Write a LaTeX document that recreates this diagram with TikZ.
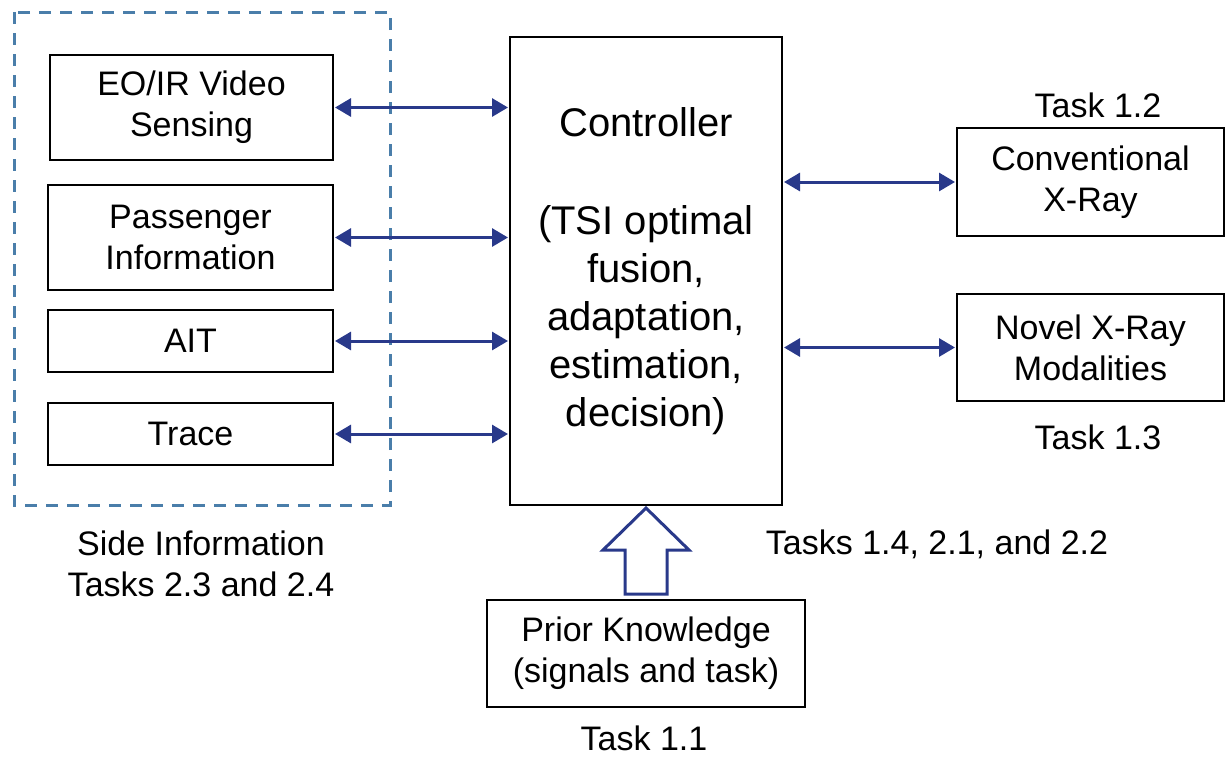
\documentclass[tikz,border=0pt]{standalone}
\usepackage{fontspec}
\setmainfont{Liberation Sans}
\usetikzlibrary{arrows.meta,calc}
\definecolor{navy}{RGB}{41,57,138}
\definecolor{steel}{RGB}{74,126,170}
\begin{document}
\begin{tikzpicture}[x=1pt,y=-1pt,
  txt/.style={font=\fontsize{34}{41}\selectfont, align=center},
  box/.style={draw=black, line width=2pt, inner sep=0pt, txt},
  link/.style={draw=navy, line width=3pt, {Triangle[length=16pt,width=18pt]}-{Triangle[length=16pt,width=18pt]}, shorten <=1pt, shorten >=1pt}]
\useasboundingbox (0,0) rectangle (1226,756);

% side-information group
\draw[steel, line width=3pt, dash pattern=on 12pt off 9pt] (14,12) rectangle (390,505);

% sensing inputs
\node[box, minimum width=283pt, minimum height=105pt] (eo) at (191.5,107.5) {EO/IR Video\\Sensing};
\node[box, minimum width=285pt, minimum height=105pt] (pass) at (190.5,237.5) {Passenger\\Information};
\node[box, minimum width=285pt, minimum height=62pt] (ait) at (190.5,341) {AIT};
\node[box, minimum width=285pt, minimum height=62pt] (trace) at (190.5,434) {Trace};

% central controller
\node[box, minimum width=272pt, minimum height=468pt, font=\fontsize{40}{48}\selectfont] (ctrl) at (646,271)
  {Controller\\[50pt](TSI optimal\\fusion,\\adaptation,\\estimation,\\decision)};

% X-ray modalities
\node[box, minimum width=267pt, minimum height=108pt] (conv) at (1090.5,182) {Conventional\\X-Ray};
\node[box, minimum width=267pt, minimum height=107pt] (novel) at (1090.5,347.5) {Novel X-Ray\\Modalities};

% prior knowledge
\node[box, minimum width=318pt, minimum height=107pt] (prior) at (646,653.5) {Prior Knowledge\\(signals and task)};

% bidirectional links
\draw[link] (eo.east) -- (ctrl.west |- eo.east);
\draw[link] (pass.east) -- (ctrl.west |- pass.east);
\draw[link] (ait.east) -- (ctrl.west |- ait.east);
\draw[link] (trace.east) -- (ctrl.west |- trace.east);
\draw[link] (ctrl.east |- conv.west) -- (conv.west);
\draw[link] (ctrl.east |- novel.west) -- (novel.west);

% hollow block arrow from prior knowledge into the controller
\draw[navy, line width=3pt, line join=miter]
  ($(ctrl.south)+(0,2)$) -- ++(43,42) -- ++(-22,0) -- ++(0,44) -- ++(-42,0)
  -- ++(0,-44) -- ++(-22,0) -- cycle;

% task labels
\node[txt] (t12) at (1098,105) {Task 1.2};
\node[txt] (t13) at (1098,437) {Task 1.3};
\node[txt] (t14) at (937,544) {Tasks 1.4, 2.1, and 2.2};
\node[txt] (side) at (201,564) {Side Information\\Tasks 2.3 and 2.4};
\node[txt] (t11) at (644,738) {Task 1.1};
\end{tikzpicture}
\end{document}
